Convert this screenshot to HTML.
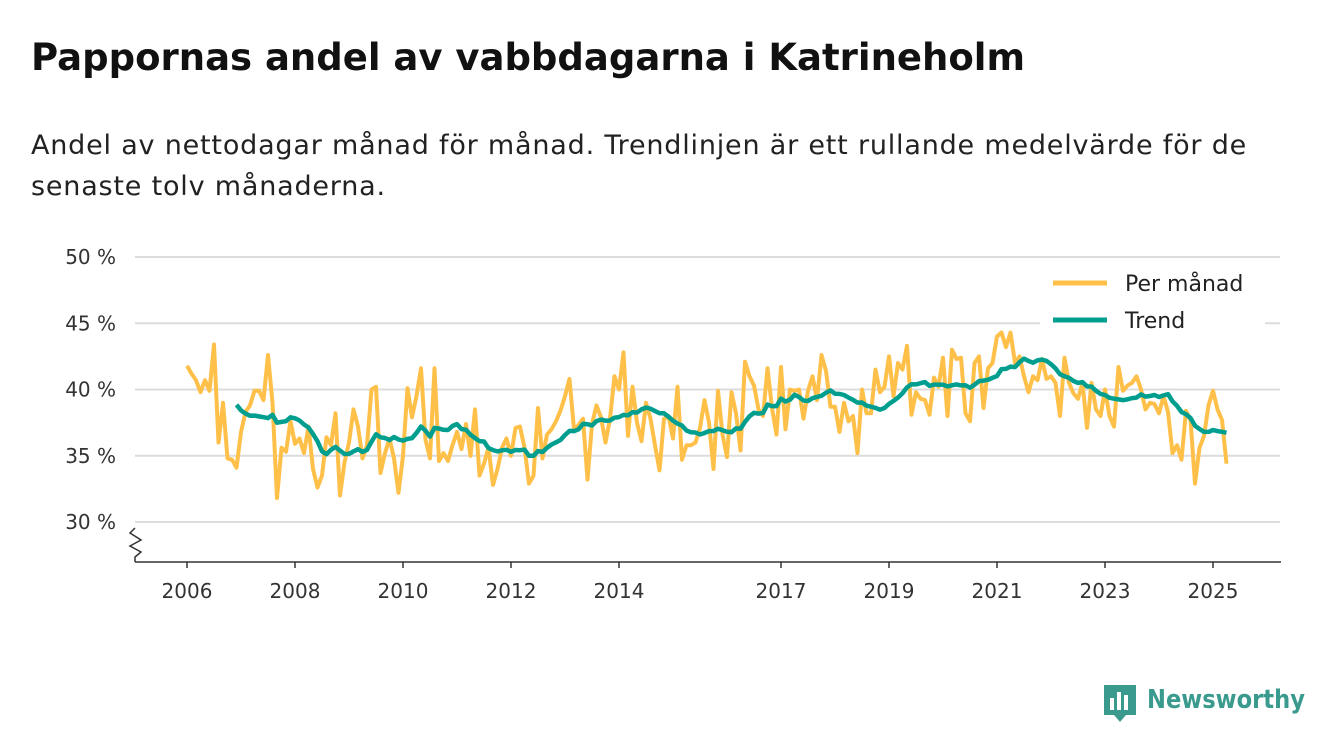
<!DOCTYPE html>
<html><head><meta charset="utf-8"><style>
body{margin:0;background:#fff;font-family:"DejaVu Sans","Liberation Sans",sans-serif;}
#wrap{position:relative;width:1340px;height:753px;overflow:hidden;}
h1{position:absolute;left:31px;top:36px;margin:0;font-size:37px;font-weight:bold;color:#111;white-space:nowrap;}
.sub{position:absolute;left:31px;top:125px;margin:0;font-size:27px;letter-spacing:0.8px;line-height:41px;color:#222;width:1300px;white-space:nowrap;}
svg{position:absolute;left:0;top:0;font-family:"DejaVu Sans","Liberation Sans",sans-serif;}
</style></head><body>
<div id="wrap">
<h1>Pappornas andel av vabbdagarna i Katrineholm</h1>
<p class="sub">Andel av nettodagar månad för månad. Trendlinjen är ett rullande medelvärde för de<br>senaste tolv månaderna.</p>
<svg id="chart" width="1340" height="753"></svg>
</div>
<script>
const startYear = 2006;
const monthly = [
41.8,41.2,40.7,39.8,40.7,39.9,43.4,36.0,39.0,34.8,34.7,34.1,
36.8,38.3,38.8,39.9,39.9,39.2,42.6,39.0,31.8,35.6,35.3,37.6,
35.9,36.3,35.2,37.2,34.0,32.6,33.5,36.4,35.8,38.2,32.0,34.5,
36.0,38.5,37.2,34.8,35.8,40.0,40.2,33.7,35.2,36.3,34.8,32.2,
35.0,40.1,37.9,39.5,41.6,36.2,34.8,41.6,34.6,35.2,34.6,35.8,
36.8,35.5,37.4,35.0,38.5,33.5,34.4,35.6,32.8,34.0,35.6,36.3,
35.0,37.1,37.2,35.6,32.9,33.5,38.6,34.8,36.6,37.0,37.6,38.4,
39.5,40.8,37.0,37.3,37.8,33.2,37.4,38.8,37.9,36.0,37.8,41.0,
40.0,42.8,36.5,40.2,37.5,36.1,39.0,37.8,35.8,33.9,37.8,38.0,
36.3,40.2,34.7,35.8,35.8,36.0,37.1,39.2,37.5,34.0,39.9,36.6,
34.9,39.8,38.2,35.4,42.1,41.0,40.3,38.5,38.0,41.6,38.6,36.6,
41.7,37.0,40.0,39.9,40.0,37.8,39.9,41.0,39.2,42.6,41.4,38.7,
38.7,36.8,39.0,37.6,38.0,35.2,40.0,38.2,38.2,41.5,39.8,40.2,
42.5,39.5,42.0,41.5,43.3,38.1,39.8,39.3,39.2,38.1,40.9,40.2,
42.4,38.0,43.0,42.3,42.4,38.2,37.6,42.0,42.5,38.6,41.6,42.0,
44.0,44.3,43.2,44.3,42.0,42.5,41.0,39.8,41.0,40.7,42.3,40.8,
41.0,40.5,38.0,42.4,40.5,39.7,39.3,40.5,37.1,40.5,38.5,38.0,
40.0,38.0,37.2,41.7,39.9,40.3,40.5,41.0,40.0,38.5,39.0,38.9,
38.2,39.5,38.3,35.2,35.8,34.7,38.4,37.7,32.9,35.6,36.5,38.8,
39.9,38.5,37.7,34.4
];
const yTicks = [30,35,40,45,50];
const yTickLabels = ["30 %","35 %","40 %","45 %","50 %"];
const xTicks = [2006,2008,2010,2012,2014,2017,2019,2021,2023,2025];
const legendLabels = ["Per månad","Trend"];

const NS="http://www.w3.org/2000/svg";
const svg=document.getElementById('chart');
const X0=187, PXY=54, Y30=522, PXP=13.25;
const xs=t=>X0+(t-startYear)*PXY;
const ys=v=>Y30-(v-30)*PXP;
function mk(tag,attrs,parent){const e=document.createElementNS(NS,tag);for(const k in attrs)e.setAttribute(k,attrs[k]);(parent||svg).appendChild(e);return e;}

yTicks.forEach((v,i)=>{
  const g=mk('line',{x1:135,x2:1280,y1:ys(v),y2:ys(v),stroke:'#dcdcdc','stroke-width':2});
  
  
  const t=mk('text',{x:116,y:ys(v)+7,'text-anchor':'end','font-size':20,fill:'#333'});
  t.textContent=yTickLabels[i];
  
  
});
const ax=mk('line',{x1:135,x2:1281,y1:562,y2:562,stroke:'#333','stroke-width':1.5});


const zz=mk('polyline',{points:'135,528 130,533 141,540 130,546 141,552 135,557 135,562',fill:'none',stroke:'#333','stroke-width':1.5});


xTicks.forEach(y=>{
  const tk=mk('line',{x1:xs(y),x2:xs(y),y1:562,y2:568,stroke:'#333','stroke-width':1.5});
  
  
  const t=mk('text',{x:xs(y),y:598,'text-anchor':'middle','font-size':20,fill:'#333'});
  t.textContent=y;
  
  
});
const mpts=monthly.map((v,i)=>xs(startYear+i/12).toFixed(1)+','+ys(v).toFixed(1)).join(' ');
const ml=mk('polyline',{points:mpts,fill:'none',stroke:'#ffc04a','stroke-width':4,'stroke-linejoin':'round'});


const tp=[];
for(let i=11;i<monthly.length;i++){let s=0;for(let j=i-11;j<=i;j++)s+=monthly[j];tp.push(xs(startYear+i/12).toFixed(1)+','+ys(s/12).toFixed(1));}
const tl=mk('polyline',{points:tp.join(' '),fill:'none',stroke:'#009e8e','stroke-width':4.5,'stroke-linejoin':'round'});



const lb=mk('rect',{x:1040,y:262,width:225,height:78,fill:'#fff'});


[['#ffc04a',283],['#009e8e',320]].forEach((c,i)=>{
  const l=mk('line',{x1:1053,x2:1107,y1:c[1],y2:c[1],stroke:c[0],'stroke-width':5});
  
  
  const t=mk('text',{x:1125,y:c[1]+8,'font-size':22,fill:'#222'});
  t.textContent=legendLabels[i];
  
  
});
const logo=mk('g',{});


mk('path',{d:'M1104,685 h32 v30 h-10 l-6,7 l-6,-7 h-10 z',fill:'#3a9a8e'},logo);
mk('rect',{x:1110,y:698,width:4,height:12,fill:'#fff'},logo);
mk('rect',{x:1117,y:692,width:4,height:18,fill:'#fff'},logo);
mk('rect',{x:1124,y:695,width:4,height:15,fill:'#fff'},logo);
const lt=mk('text',{x:1147,y:708,'font-size':26,'font-weight':'bold',fill:'#3a9a8e',textLength:158,lengthAdjust:'spacingAndGlyphs'},logo);
lt.textContent='Newsworthy';
</script>
</body></html>
